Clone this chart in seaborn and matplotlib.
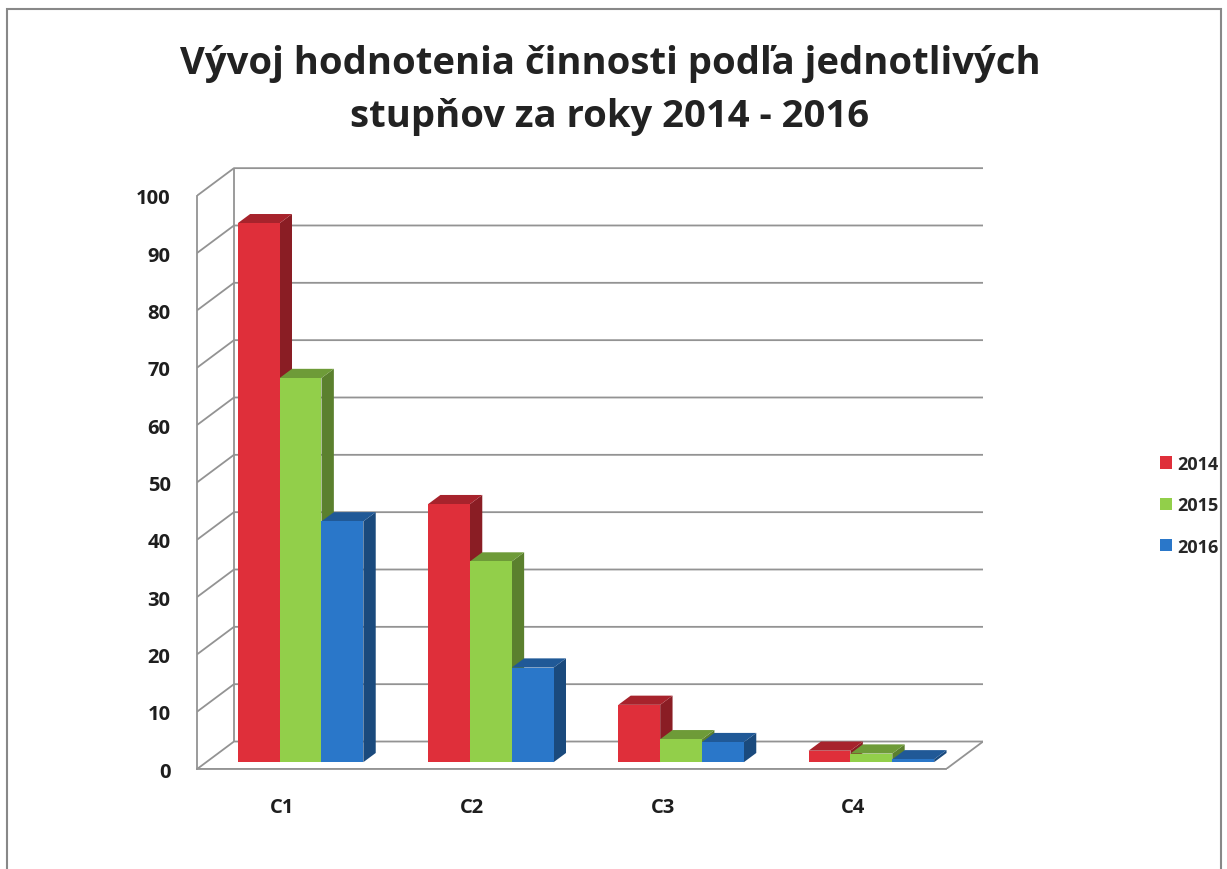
import numpy as np
import pandas as pd
import matplotlib.pyplot as plt
import seaborn as sns
from matplotlib.patches import Polygon, Rectangle
from matplotlib.colors import to_rgb

# values
categories = ['C1', 'C2', 'C3', 'C4']
years = ['2014', '2015', '2016']
vals_2014 = [94, 45, 10, 2]
vals_2015 = [67, 35, 4, 1.5]
vals_2016 = [42, 16.5, 3.5, 0.5]
colors = ['#df2f3a', '#92cf4a', '#2a77c9']

df = pd.DataFrame({
    'cat': categories * 3,
    'year': [y for y in years for _ in categories],
    'value': vals_2014 + vals_2015 + vals_2016,
})

sns.set_style('white')
plt.rcParams['font.family'] = ['Open Sans', 'DejaVu Sans']

fig = plt.figure(figsize=(12.27, 8.70), dpi=100)
ax = fig.add_axes([0.1606, 0.1149, 0.6406, 0.692])

sns.barplot(data=df, x='cat', y='value', hue='year', palette=colors,
            width=0.66, saturation=1, ax=ax, zorder=3, edgecolor='none')

x0, x1 = -0.447, 3.684
ymax = 105
wall_dx, wall_dy = 0.194, 4.8   # depth of the fake 3D box
bar_dx, bar_dy = 0.065, 1.6     # depth of each bar
bar_base = 1.2

# fake 3D depth on each bar
bars = [p for p in ax.patches if isinstance(p, Rectangle) and p.get_height() > 0]
for p in bars:
    p.set_x(p.get_x() + wall_dx / 2)
    p.set_y(bar_base)
    x, w, h = p.get_x(), p.get_width(), p.get_height()
    y0, y1 = bar_base, bar_base + h
    base = np.array(to_rgb(p.get_facecolor()))
    side = Polygon([(x + w, y0), (x + w + bar_dx, y0 + bar_dy), (x + w + bar_dx, y1 + bar_dy), (x + w, y1)],
                   closed=True, facecolor=base * 0.62, edgecolor='none', zorder=2)
    top = Polygon([(x, y1), (x + bar_dx, y1 + bar_dy), (x + w + bar_dx, y1 + bar_dy), (x + w, y1)],
                  closed=True, facecolor=base * 0.75, edgecolor='none', zorder=2)
    ax.add_patch(side)
    ax.add_patch(top)

# back wall gridlines and floor
grid_kw = dict(color='#939393', linewidth=1.3, zorder=1, solid_capstyle='butt')
yticks = list(range(0, 101, 10))
for v in yticks:
    ax.plot([x0, x0 + wall_dx, x1], [v, v + wall_dy, v + wall_dy], **grid_kw)
ax.plot([x0 + wall_dx, x0 + wall_dx], [wall_dy, 100 + wall_dy], **grid_kw)
ax.plot([x0, x1 - wall_dx, x1], [0, 0, wall_dy], **grid_kw)

ax.set_ylim(0, ymax)
ax.set_xlim(x0, x1)
ax.set_yticks(yticks)
ax.set_xlabel('')
ax.set_ylabel('')
for s in ['top', 'right']:
    ax.spines[s].set_visible(False)
ax.spines['left'].set_bounds(0, 100)
ax.spines['bottom'].set_bounds(x0, x1 - wall_dx)
ax.spines['left'].set_color('#939393')
ax.spines['bottom'].set_color('#939393')
ax.spines['left'].set_linewidth(1.3)
ax.spines['bottom'].set_linewidth(1.3)
ax.set_xticks([x0, 0.5, 1.5, 2.5, 3.5], minor=True)
ax.tick_params(axis='y', length=6, width=1.3, color='#939393', labelsize=14.5, pad=13)
ax.tick_params(axis='x', which='major', length=0, labelsize=14.5, pad=20)
ax.tick_params(axis='x', which='minor', length=8, width=1.3, color='#939393')
for t in ax.get_yticklabels() + ax.get_xticklabels():
    t.set_fontweight('bold')
    t.set_color('#1e1e1e')

fig.suptitle('Vývoj hodnotenia činnosti podľa jednotlivých\nstupňov za roky 2014 - 2016',
             x=0.497, y=0.948, fontsize=27.5, fontweight='bold', linespacing=1.5,
             color='#222222')

leg = ax.legend(loc='center left', bbox_to_anchor=(0.932, 0.418),
                bbox_transform=fig.transFigure, frameon=False,
                handlelength=0.65, handleheight=0.65, handletextpad=0.3,
                labelspacing=1.3, prop={'weight': 'bold', 'size': 13})

fig.patches.append(Rectangle((0.006, -0.01), 0.989, 0.998, transform=fig.transFigure,
                             fill=False, edgecolor='#888888', linewidth=1.5))

plt.savefig('out.png', dpi=100)
